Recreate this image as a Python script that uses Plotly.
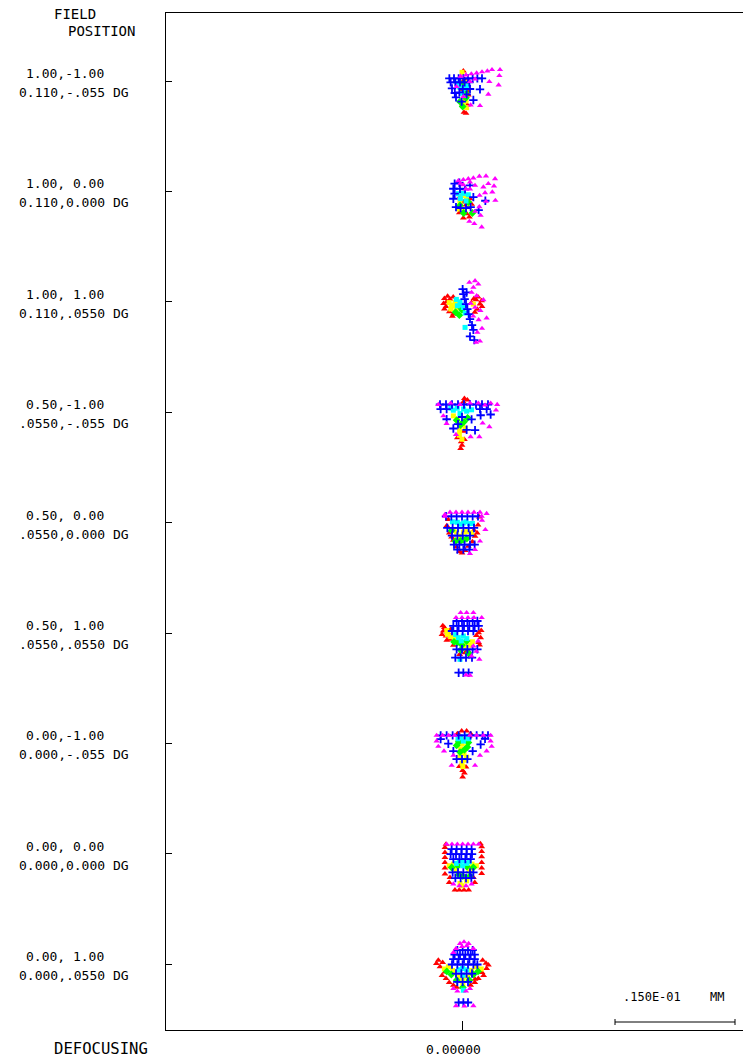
import plotly.graph_objects as go

# ---- field labels (relative field, angle) ----
FIELD_REL = ["1.00,-1.00", "1.00, 0.00", "1.00, 1.00",
             "0.50,-1.00", "0.50, 0.00", "0.50, 1.00",
             "0.00,-1.00", "0.00, 0.00", "0.00, 1.00"]
FIELD_DEG = ["0.110,-.055 DG", "0.110,0.000 DG", "0.110,.0550 DG",
             ".0550,-.055 DG", ".0550,0.000 DG", ".0550,.0550 DG",
             "0.000,-.055 DG", "0.000,0.000 DG", "0.000,.0550 DG"]
DEFOCUS = "0.00000"
SCALE_UM = 15.0
SCALE_TEXT = ".150E-01"
SCALE_UNIT = "MM"

# ---- ray intercepts per wavelength, one list per field, (x, y) in micrometres ----
BLUE = [
    [(-1.58, 0.33), (-1.0, 0.33), (-0.42, 0.33), (0.17, 0.33), (0.75, 0.33), (1.33, 0.33), (1.92, 0.33), (2.5, 0.33),
     (-1.42, -0.17), (-0.83, -0.17), (-0.25, -0.17), (0.33, -0.17), (0.92, -0.17), (-1.25, -0.92), (2.25, -1.04),
     (-0.75, -2.04), (1.42, -2.38), (-0.33, -1.42), (0.58, -1.67), (-0.04, -2.58), (0.1, -1.0), (1.0, -1.0),
     (-0.9, -1.5)],
    [(-0.92, 0.96), (-0.33, 1.08), (-1.08, 0.33), (-0.92, -0.29), (-1.08, -0.92), (-0.75, -1.96), (-0.17, -2.08),
     (0.5, -2.08), (1.08, -1.96), (2.08, -2.33), (2.92, -1.17), (1.0, 0.75), (0.38, 0.25), (-0.25, 0.33), (1.42, -0.71)],
    [(0.08, 1.58), (0.17, 0.96), (0.33, 0.33), (0.5, -0.29), (0.67, -0.92), (0.83, -1.54), (1.0, -2.17), (1.25, -2.92),
     (1.42, -3.5), (1.0, -4.33), (1.54, -4.79), (0.58, 1.17)],
    [(-2.75, 0.96), (-2.0, 0.96), (-1.25, 0.96), (-0.5, 0.96), (0.25, 0.96), (1.0, 0.96), (1.75, 0.96), (2.5, 0.96),
     (3.25, 0.96), (-2.67, 0.38), (-1.92, 0.38), (2.25, 0.38), (3.08, 0.38), (-1.92, -0.88), (-1.08, -2.04),
     (0.58, -2.2), (1.63, -2.25), (2.33, -0.38), (3.58, -0.29), (0.0, -0.6), (1.2, -0.9), (-0.5, -1.5)],
    [(-2.0, 0.79), (-1.33, 0.79), (-0.67, 0.79), (0.0, 0.79), (0.67, 0.79), (1.33, 0.79), (2.0, 0.79),
     (-1.83, -0.67), (-1.17, -0.67), (-0.5, -0.67), (0.17, -0.67), (0.83, -0.67), (1.5, -0.67),
     (-1.25, -1.63), (-0.58, -1.63), (0.08, -1.63), (1.0, -1.63),
     (-1.0, -2.75), (-0.33, -2.75), (0.33, -2.75), (1.0, -2.75), (1.58, -2.75),
     (-0.58, -3.38), (0.17, -3.38), (0.92, -3.38)],
    [(-0.67, 1.5), (0.0, 1.5), (0.67, 1.5), (1.33, 1.5), (1.92, 1.5),
     (-1.08, 0.88), (-0.42, 0.88), (0.25, 0.88), (0.92, 0.88), (1.58, 0.88), (2.08, 0.88),
     (-1.25, 0.25), (-0.58, 0.25), (0.08, 0.25), (0.75, 0.25), (1.42, 0.25),
     (-0.67, -2.04), (0.0, -2.04), (0.67, -2.04), (1.33, -2.04), (1.92, -2.04),
     (-0.83, -3.08), (-0.17, -3.08), (0.5, -3.08), (1.25, -3.08),
     (-0.42, -4.96), (0.17, -4.96), (0.83, -4.96)],
    [(-2.67, 1.0), (-1.92, 1.0), (-1.17, 1.0), (-0.42, 1.0), (0.33, 1.0), (1.08, 1.0), (1.83, 1.0), (2.58, 1.0),
     (3.25, 1.0), (-2.67, 0.54), (-1.71, -0.04), (2.88, 0.58), (2.33, -0.13), (-1.08, -0.96), (1.33, -0.96),
     (-0.67, -1.96), (0.0, -1.96), (0.67, -1.96)],
    [(-1.29, 0.58), (-0.67, 0.58), (-0.04, 0.58), (0.58, 0.58), (1.2, 0.58),
     (-1.42, -0.04), (-0.75, -0.04), (-0.08, -0.04), (0.58, -0.04), (1.25, -0.04),
     (-1.08, -0.67), (-0.33, -0.67), (0.42, -0.67), (1.08, -0.67),
     (-1.17, -2.33), (-0.5, -2.33), (0.17, -2.33), (1.0, -2.33), (1.42, -2.33),
     (-0.83, -3.04), (-0.17, -3.04), (0.5, -3.04), (1.17, -3.04)],
    [(-0.58, 1.75), (0.08, 1.75), (0.75, 1.75), (1.33, 1.75),
     (-0.92, 1.2), (-0.25, 1.2), (0.42, 1.2), (1.08, 1.2), (1.58, 1.2),
     (-1.08, 0.63), (-0.42, 0.63), (0.25, 0.63), (0.92, 0.63), (1.58, 0.63),
     (-1.25, -0.04), (-0.58, -0.04), (0.08, -0.04), (0.75, -0.04), (1.42, -0.04), (1.92, -0.04),
     (-0.75, -1.17), (-0.08, -1.17), (0.58, -1.17), (1.25, -1.17),
     (-0.58, -2.2), (0.08, -2.2), (0.75, -2.2),
     (-0.42, -4.79), (0.17, -4.79), (0.75, -4.79)],
]

MAGENTA = [
    [(-0.17, 0.58), (0.5, 0.75), (1.17, 0.88), (1.83, 1.0), (2.5, 1.13), (3.17, 1.25), (3.75, 1.42), (4.75, 1.42),
     (4.67, 0.67), (3.42, -0.08), (4.58, -0.5), (3.29, -1.67), (2.25, -3.08), (1.08, -3.0), (1.0, -0.08),
     (1.63, 0.25), (-0.67, -0.71), (0.17, -1.96)],
    [(-0.46, 1.33), (0.17, 1.46), (0.79, 1.58), (1.42, 1.67), (2.17, 1.88), (3.0, 1.92), (4.13, 1.58), (3.29, 0.96),
     (4.0, 0.67), (2.67, 0.54), (3.79, -0.08), (2.88, -0.17), (4.17, -1.13), (3.0, -1.25), (2.17, -1.92),
     (1.63, -2.5), (2.33, -3.0), (1.54, -4.04), (2.46, -4.46), (0.92, -3.75), (0.17, 0.83), (1.0, 1.17),
     (1.63, 0.75), (0.5, 0.3), (-0.2, 1.0), (2.2, -0.5), (1.0, 0.3)],
    [(0.92, 2.42), (1.63, 2.63), (2.04, 2.2), (1.42, 1.79), (1.2, 1.17), (1.83, 0.75), (2.67, 0.25), (1.63, -0.71),
     (3.08, -2.04), (2.08, -2.25), (2.5, -3.33), (1.92, -3.83), (2.25, -4.92), (1.75, -5.08), (1.1, -0.2),
     (2.3, -1.1), (1.4, -1.8)],
    [(-2.96, 0.96), (-1.42, 1.13), (1.0, 1.13), (2.04, 1.13), (3.58, 1.13), (4.4, 0.96), (4.25, 0.25),
     (-2.33, -0.46), (-1.92, -1.42), (2.58, -1.38), (3.42, -1.83), (1.08, -3.08), (2.17, -3.08), (-0.75, -2.79),
     (-0.25, 0.96), (2.88, 0.88)],
    [(-1.5, 1.29), (-0.75, 1.29), (0.0, 1.29), (0.75, 1.29), (1.5, 1.29), (2.25, 1.29),
     (-2.13, 0.79), (2.46, 0.79), (3.08, 1.13), (2.5, 0.29), (2.92, -0.88), (2.25, -2.33), (1.63, -3.38),
     (1.0, -3.88), (-2.13, 1.0)],
    [(-0.17, 2.54), (0.58, 2.54), (1.42, 2.54), (2.46, 1.92), (-0.75, 1.92), (0.0, 1.92), (0.75, 1.92), (1.5, 1.92),
     (1.42, -1.63), (2.17, -3.29), (1.2, -2.88), (1.0, -5.29), (0.5, -5.25), (2.0, -1.0), (1.8, -2.3)],
    [(-3.17, 1.0), (-2.42, 1.0), (-1.67, 1.0), (-0.92, 1.0), (1.0, 1.0), (1.83, 1.0), (2.67, 1.0), (3.58, 1.0),
     (-3.17, 0.29), (-2.96, -0.38), (3.58, 0.29), (3.71, -0.38), (-2.25, -0.96), (-1.08, -1.5), (-1.29, -2.75),
     (1.63, -2.75), (2.25, -1.5), (3.08, -0.96)],
    [(-1.92, 1.2), (-1.25, 1.2), (-0.58, 1.2), (0.08, 1.2), (0.75, 1.2), (1.42, 1.2), (2.08, 1.2),
     (-1.08, -3.79), (-0.33, -4.0), (0.5, -4.0), (1.2, -3.79)],
    [(-0.25, 2.58), (0.25, 2.79), (0.83, 2.58), (-0.75, 1.96), (1.42, 1.96), (-1.08, 1.46), (-1.08, -3.04),
     (1.0, -3.04), (-0.58, -3.38), (0.5, -3.38), (-0.75, -5.2), (1.42, -5.2), (0.3, -5.25), (0.0, 2.2), (0.6, 2.3)],
]

RED = [
    [(0.17, 1.25), (0.58, -0.5), (0.08, -1.13), (0.79, -1.75), (0.38, -2.38), (0.67, -3.0), (0.5, -4.04), (0.25, -3.9),
     (0.3, 0.2), (0.6, -1.2), (0.1, -2.9)],
    [(0.17, -1.33), (1.0, -0.92), (0.58, -2.79), (0.17, -3.33), (0.92, -3.2), (-0.33, -2.67), (0.5, -1.7),
     (-0.2, -0.6), (1.2, -1.6)],
    [(-1.92, 0.0), (-2.0, -0.58), (-1.5, 0.33), (-1.58, -1.25), (-1.08, -1.54), (-1.1, 0.6), (1.75, 0.25),
     (2.25, -0.29), (1.92, -0.92), (2.46, 0.13), (1.2, -0.1), (-2.3, -0.2), (-2.2, 0.4), (-1.8, 0.7),
     (-2.2, -0.9), (-1.2, -1.8), (-0.7, -1.4), (2.0, 0.6), (2.5, -0.6), (1.6, -1.3), (1.5, 0.4)],
    [(0.17, 1.29), (0.67, 1.54), (0.0, -4.13), (-0.17, -4.54), (0.25, -2.38), (-0.58, -3.2), (0.3, 1.7),
     (-0.1, -3.7), (0.3, -3.4)],
    [(-1.71, 0.38), (-1.58, -1.29), (-1.08, -2.2), (-0.67, -3.04), (0.0, -3.79), (0.79, -2.96), (1.63, -1.71),
     (1.5, -0.96), (2.17, 0.71), (-1.9, -0.4), (-1.3, -1.8), (-2.1, 0.9), (2.0, -0.3), (1.9, -1.3), (1.3, -2.4),
     (0.4, -3.5), (-0.3, -3.6)],
    [(-2.33, 0.25), (-2.0, -0.38), (-1.58, -0.79), (-1.42, 0.46), (2.08, 0.04), (2.33, -0.58), (2.08, -1.2),
     (0.38, -2.46), (1.08, -2.88), (-1.08, -1.54), (-2.5, -0.2), (-2.2, 0.7), (-1.8, 0.1), (-1.9, -0.9),
     (-2.4, 0.9), (2.4, 0.3), (1.8, -0.3), (2.2, -1.5), (0.7, -2.2), (-0.3, -2.7)],
    [(-0.58, 1.2), (-0.04, 1.54), (0.58, 1.54), (1.08, 1.2), (0.08, -3.38), (0.5, -2.96), (0.08, -4.2), (-0.33, -2.88),
     (-0.3, 1.0), (0.9, 0.9), (0.3, -3.7)],
    [(-2.13, 0.79), (-2.13, 0.17), (-2.13, -0.46), (-2.13, -1.08), (-2.13, -1.79), (-2.13, -2.54),
     (2.46, 0.88), (2.46, 0.29), (2.46, -0.38), (2.46, -1.08), (2.46, -1.79), (2.46, -2.46),
     (-0.88, -4.54), (-0.33, -4.54), (0.25, -4.54), (0.83, -4.54), (-1.5, -2.96), (1.42, -2.96),
     (-2.0, 1.2), (2.3, 1.25), (-1.6, -3.6), (1.6, -3.6)],
    [(-2.96, 0.5), (-2.42, 0.2), (-2.75, -0.33), (-2.13, -0.96), (-2.0, -1.79), (2.58, 0.5), (3.0, 0.13),
     (3.08, -0.54), (2.5, -1.04), (2.04, -1.79), (-1.08, -2.63), (-0.67, -2.88), (1.08, -2.63), (1.63, -1.88),
     (-3.2, 0.1), (3.3, -0.1), (-1.6, -2.3), (1.6, -2.3), (-2.5, -1.4), (2.7, -1.4)],
]

YELLOW = [
    [(0.0, 1.08), (0.38, -0.83), (0.17, -3.0), (0.58, -3.33), (0.6, -0.2), (0.2, -1.9), (0.5, -2.5)],
    [(-0.25, -1.25), (0.25, -2.38), (0.58, -0.71), (0.1, -0.5), (0.9, -1.9), (-0.4, -2.2)],
    [(-1.29, -0.42), (-0.75, -0.83), (-0.88, -0.08), (1.42, -0.29), (-1.6, -0.1), (-1.1, -0.5), (-1.4, -0.9),
     (-0.5, -0.3)],
    [(-1.08, -0.46), (0.08, -1.63), (-0.33, -2.88), (0.0, -3.38), (-0.6, -0.9), (-0.3, -2.3), (0.4, -2.0)],
    [(-1.08, -0.96), (0.58, -1.13), (1.2, -1.29), (-0.33, -1.71), (-0.7, -1.2), (0.2, -1.2), (-0.6, -2.2)],
    [(-1.83, -0.17), (-1.42, -0.46), (0.25, -1.63), (1.0, -1.54), (-0.88, -0.79), (-1.9, 0.3), (-1.1, -0.3),
     (0.6, -1.4), (1.3, -1.1)],
    [(0.0, -0.04), (-0.17, -0.67), (0.25, -1.29), (0.0, -2.46), (0.58, -1.71), (0.3, 0.5), (-0.3, -1.7),
     (0.3, -2.1), (0.1, -2.9), (-0.5, 0.2), (0.6, -0.4)],
    [(-1.08, -1.29), (1.25, -1.29), (-0.75, -1.96), (0.92, -1.96), (-0.25, -3.7), (0.58, -3.38), (-1.6, -1.5),
     (1.8, -1.5), (0.0, -4.0)],
    [(-1.71, -0.33), (1.83, -0.33), (-1.17, -0.79), (1.2, -0.79), (0.08, -1.88), (-2.2, -0.6), (2.4, -0.6),
     (-0.5, -1.6), (0.7, -1.6), (0.1, -2.6)],
]

GREEN = [
    [(-0.25, -2.58), (0.08, -3.2), (0.0, -0.42), (0.4, -1.4), (0.5, -2.1)],
    [(-0.25, -1.75), (0.79, -1.33), (0.2, -2.7), (1.3, -2.7)],
    [(-0.33, -1.67), (0.0, -1.0), (-0.8, -1.3), (-0.3, -0.6)],
    [(-0.67, -1.0), (0.25, -1.2), (-0.2, -1.6), (0.7, -0.7)],
    [(-0.83, -2.33), (0.17, -2.13), (-0.2, -2.3), (0.6, -2.0), (-1.3, -1.0)],
    [(-0.58, -1.2), (0.58, -1.0), (-0.17, -2.13), (0.0, -1.5), (-1.0, -1.1), (0.8, -2.5)],
    [(-0.67, -0.25), (0.67, -0.46), (-0.25, -1.08), (-0.4, 0.2), (0.8, 0.1), (0.3, -0.8)],
    [(-1.29, -1.71), (1.42, -1.71), (-0.42, -2.63), (1.0, -2.75), (-0.5, -1.5), (0.6, -1.6), (0.1, -2.8)],
    [(-1.33, -1.29), (1.42, -1.29), (-0.67, -2.0), (0.92, -2.0), (-1.9, -0.9), (2.0, -0.9), (0.1, -2.9)],
]

CYAN = [
    [(-0.33, -0.75), (0.33, -0.92), (0.0, -1.54), (-0.6, -0.3), (0.6, -0.6)],
    [(-0.46, -0.29), (0.17, -0.25), (0.79, -0.42), (-0.2, -0.9), (0.5, -1.2)],
    [(-0.25, 0.0), (0.17, -0.71), (0.38, -3.2), (-0.58, -0.5), (-0.1, -0.4), (0.4, -1.4), (-0.7, 0.3)],
    [(-1.08, 0.25), (-0.25, -0.17), (0.58, 0.13), (-0.6, 0.5), (0.2, 0.4), (1.2, 0.3), (-1.4, 0.5)],
    [(-0.58, 0.04), (0.17, -0.04), (0.92, -0.13), (-1.2, 0.1), (0.5, 0.1), (1.3, -0.1), (-0.2, -0.2)],
    [(-0.46, -0.58), (0.17, -0.38), (-0.25, -3.29), (-0.8, -0.2), (0.6, -0.7), (-0.1, -1.0)],
    [(-0.5, 0.58), (0.17, 0.29), (0.83, 0.58), (-0.2, 0.8), (0.5, 0.9)],
    [(-0.33, -0.96), (0.08, -1.5), (0.58, -1.2), (-0.7, -1.2), (0.9, -1.0), (0.2, -0.9)],
    [(0.08, -0.54), (0.17, -3.25), (-0.4, -0.7), (0.6, -0.7), (0.1, -1.4)],
]

# ---- layout geometry (pixels of the 743 x 1060 page) ----
W, H = 743, 1060
PL, PR, PT, PB = 166, 743, 13, 1030          # plot-area edges
PX_PER_UM = 8.0                               # 15 um bar = 120 px
X0_PX = 462                                   # chief-ray column
ROW_STEP = 13.8                               # um between field rows
TOP_MARGIN_UM = 8.5

x_range = [-(X0_PX - PL) / PX_PER_UM, (PR - X0_PX) / PX_PER_UM]
y_range = [TOP_MARGIN_UM - (PB - PT) / PX_PER_UM, TOP_MARGIN_UM]
row_centres = [-k * ROW_STEP for k in range(len(FIELD_REL))]


def paper_x(px):
    return (px - PL) / (PR - PL)


def paper_y(py):
    return (PB - py) / (PB - PT)


fig = go.Figure()

waves = [
    (RED, "#ff0000", dict(symbol="triangle-up", size=6)),
    (YELLOW, "#ffff00", dict(symbol="square", size=5)),
    (GREEN, "#00ff00", dict(symbol="diamond", size=6)),
    (CYAN, "#00ffff", dict(symbol="square", size=5)),
    (BLUE, "#0000ff", dict(symbol="cross-thin", size=6)),
    (MAGENTA, "#ff00ff", dict(symbol="triangle-up", size=5.5)),
]
for pts_by_field, colour, mk in waves:
    xs, ys = [], []
    for yc, pts in zip(row_centres, pts_by_field):
        for px_, py_ in pts:
            xs.append(px_)
            ys.append(py_ + yc)
    lw = 1.8 if mk["symbol"] == "cross-thin" else 0
    marker = dict(color=colour, line=dict(color=colour, width=lw), **mk)
    fig.add_trace(go.Scatter(x=xs, y=ys, mode="markers", marker=marker,
                             hoverinfo="skip", showlegend=False))

# scale bar, 15 um long, ending near the right edge
bar_x1 = (735 - X0_PX) / PX_PER_UM
bar_x0 = bar_x1 - SCALE_UM
bar_y = TOP_MARGIN_UM - (1022 - PT) / PX_PER_UM
cap = 3 / PX_PER_UM
fig.add_trace(go.Scatter(
    x=[bar_x0, bar_x1, None, bar_x0, bar_x0, None, bar_x1, bar_x1],
    y=[bar_y, bar_y, None, bar_y - cap, bar_y + cap, None, bar_y - cap, bar_y + cap],
    mode="lines", line=dict(color="black", width=1), hoverinfo="skip", showlegend=False))

MONO = "DejaVu Sans Mono"
ann = []


def text(s, x, y, size, anchor="left", yref="paper", yshift=0):
    ann.append(dict(text=s, x=paper_x(x), y=y, xref="paper", yref=yref, yshift=yshift,
                    xanchor=anchor, yanchor="middle", showarrow=False, borderpad=0,
                    font=dict(family=MONO, size=size, color="black")))


text("FIELD", 53, paper_y(14), 14)
text("POSITION", 67, paper_y(31), 14)
for yc, rel, deg in zip(row_centres, FIELD_REL, FIELD_DEG):
    text(rel, 25, yc, 13, yref="y", yshift=7.5)
    text(deg, 18, yc, 13, yref="y", yshift=-11.5)
text("DEFOCUSING", 53, paper_y(1049), 15.6)
text(DEFOCUS, 425, paper_y(1049), 13)
text(SCALE_TEXT, 652, paper_y(997), 12, anchor="center")
text(SCALE_UNIT, 717, paper_y(997), 12, anchor="center")

fig.update_layout(
    width=W, height=H,
    margin=dict(l=PL, r=W - PR, t=PT, b=H - PB),
    paper_bgcolor="white", plot_bgcolor="white",
    annotations=ann,
    xaxis=dict(range=x_range, showgrid=False, zeroline=False, showline=True, mirror=True,
               linecolor="black", linewidth=1, tickvals=[0], ticks="inside", ticklen=9,
               tickcolor="black", showticklabels=False, fixedrange=True),
    yaxis=dict(range=y_range, showgrid=False, zeroline=False, showline=True,
               linecolor="black", linewidth=1, tickvals=row_centres, ticks="inside", ticklen=6,
               tickcolor="black", showticklabels=False, fixedrange=True),
)

fig.write_html("out.html")
